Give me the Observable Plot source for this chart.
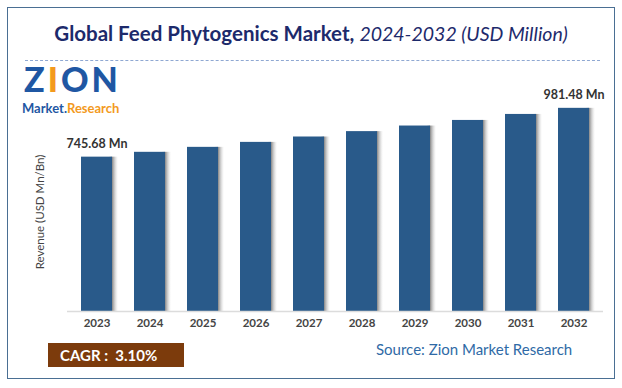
<!DOCTYPE html>
<html><head><meta charset="utf-8">
<script src="https://cdn.jsdelivr.net/npm/d3@7"></script>
<script src="https://cdn.jsdelivr.net/npm/@observablehq/plot@0.6"></script>
<style>
body{margin:0;background:#fff;font-family:Lato,"Open Sans",sans-serif;}
#wrap{position:relative;width:622px;height:388px;overflow:hidden;}
#frame{position:absolute;left:7px;top:7px;width:608px;height:372px;border:1.5px solid #4a6f93;box-sizing:border-box;}
#dash{position:absolute;left:25px;top:60px;width:575px;border-top:1.5px dashed #8fa8d2;}
#title{position:absolute;left:0;width:622px;top:21px;text-align:center;color:#1d2a6b;font-size:20.5px;font-weight:700;white-space:nowrap;}
#title i{font-weight:400;font-size:19.5px;}
#plot{position:absolute;left:0;top:0;}
#cagr{position:absolute;left:48px;top:343px;width:136px;height:24px;background:#7c3b0c;color:#fff;font-weight:700;font-size:15px;line-height:24px;padding-left:12px;box-sizing:border-box;}
#source{position:absolute;left:376px;top:340px;color:#2f6aa6;font-size:15px;}
#logoZ{position:absolute;left:24px;top:62px;font-size:34px;line-height:34px;height:34px;font-weight:900;color:#1f57a3;letter-spacing:3px;}
#logoM{position:absolute;left:22px;top:101px;font-size:13px;line-height:14px;font-weight:700;white-space:nowrap;}
</style></head>
<body><div id="wrap">
<div id="frame"></div>
<div id="dash"></div>
<div id="title">Global Feed Phytogenics Market, <i>2024-2032 (USD Million)</i></div>
<div id="logoZ">Z<span style="color:#f39a1e">I</span>ON</div>
<div id="logoM"><span style="color:#1f57a3">Market.</span><span style="color:#f39a1e">Research</span></div>
<div id="plot"></div>
<div id="cagr">CAGR :&nbsp; 3.10%</div>
<div id="source">Source: Zion Market Research</div>
</div>
<script>
const years = ["2023","2024","2025","2026","2027","2028","2029","2030","2031","2032"];
const revenue = [745.68, 769, 793, 817, 843, 869, 896, 923, 952, 981.48];
const valueLabels = ["745.68 Mn","","","","","","","","","981.48 Mn"];
const yAxisLabel = "Revenue (USD Mn/Bn)";

const data = years.map((y,i)=>({year:y, value:revenue[i], label:valueLabels[i]}));

const chart = Plot.plot({
  width:622, height:388,
  marginLeft:67, marginRight:19, marginTop:104, marginBottom:77,
  style:{fontFamily:"Lato, 'Open Sans', sans-serif", background:"transparent", overflow:"visible"},
  x:{domain:years, paddingInner:0.42, paddingOuter:0.21, label:null},
  y:{domain:[0,1000], axis:null},
  marks:[
    Plot.barY(data,{x:"year", y:"value", fill:"url(#shadowGrad)", dx:6}),
    Plot.barY(data,{x:"year", y:"value", fill:"#295a8a"}),
    Plot.ruleY([0],{stroke:"#dcdcdc", strokeWidth:1.5}),
    Plot.text(data.filter(d=>d.label),{x:"year", y:"value", text:"label", dy:-13, fontSize:12.5, fontWeight:"bold", fill:"#333"}),
    Plot.axisX({tickSize:0, tickPadding:7, fontSize:11.5, fontWeight:"bold", color:"#444", label:null})
  ]
});
document.getElementById("plot").appendChild(chart);
const svg = d3.select(chart);
const defs = svg.insert("defs",":first-child");
const g = defs.append("linearGradient").attr("id","shadowGrad").attr("x1","0").attr("x2","1").attr("y1","0").attr("y2","0");
g.append("stop").attr("offset","0.7").attr("stop-color","#777").attr("stop-opacity",0);
g.append("stop").attr("offset","0.82").attr("stop-color","#777").attr("stop-opacity",0.8);
g.append("stop").attr("offset","1").attr("stop-color","#ccc").attr("stop-opacity",0);
svg.append("text").attr("transform","translate(44,212) rotate(-90)").attr("text-anchor","middle")
  .attr("font-size",11.5).attr("fill","#444").attr("font-family","Lato, 'Open Sans', sans-serif").text(yAxisLabel);
</script>
</body></html>
